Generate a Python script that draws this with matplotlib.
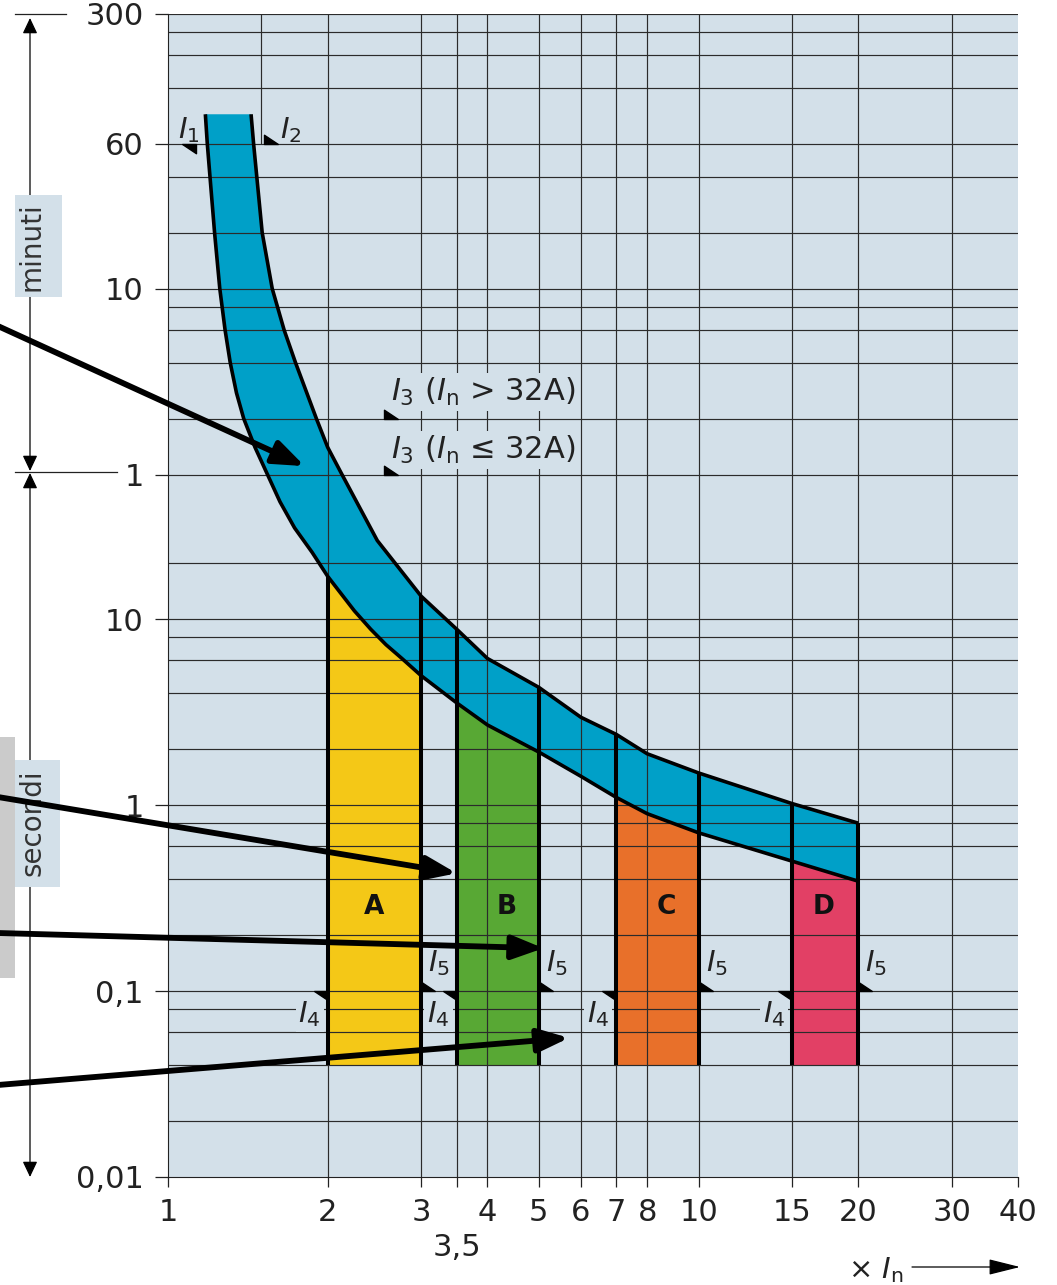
import numpy as np
import matplotlib.pyplot as plt
from matplotlib.path import Path
from matplotlib.patches import Rectangle
from matplotlib.lines import Line2D
from matplotlib.ticker import FixedLocator, FixedFormatter, NullLocator

plt.rcParams['font.family'] = ['DejaVu Sans']
plt.rcParams['mathtext.fontset'] = 'dejavusans'

# tripping band (x = multiple of In, t in seconds)
lower_x = np.array([1.176, 1.186, 1.224, 1.252, 1.281, 1.31, 1.346, 1.389, 1.459, 1.54,
                    1.626, 1.732, 1.869, 2.0, 2.245, 2.41, 2.575, 2.76, 3.0, 3.5, 4.0,
                    5.0, 6.0, 7.0, 8.0, 10.0, 15.0, 20.0])
lower_t = np.array([5200, 3600, 1200, 600, 360, 240, 165, 120, 84, 60,
                    42.8, 31.0, 22.9, 17.0, 11.1, 8.84, 7.3, 6.15, 4.97, 3.55, 2.70,
                    1.93, 1.43, 1.10, 0.90, 0.71, 0.50, 0.39])
upper_x = np.array([1.434, 1.45, 1.505, 1.572, 1.655, 1.739, 1.904, 2.0, 2.128, 2.48,
                    3.0, 3.5, 4.0, 5.0, 6.0, 7.0, 8.0, 10.0, 15.0, 20.0])
upper_t = np.array([5200, 3600, 1200, 600, 360, 240, 120, 84, 60, 26.5,
                    13.3, 8.84, 6.15, 4.3, 2.97, 2.40, 1.89, 1.49, 1.02, 0.80])

# magnetic trip zones
bar_names = ['A', 'B', 'C', 'D']
bar_lo = [2, 3.5, 7, 15]
bar_hi = [3, 5, 10, 20]
bar_colors = ['#f4c817', '#58a834', '#e8702a', '#e24065']
bar_label_x = [2.45, 4.35, 8.7, 17.2]
bar_label_t = 0.285
bar_bottom = 0.04

# characteristic points
i1_x, i2_x, i3_x = 1.13, 1.52, 2.55
t_i12 = 3600
t_i3 = [120, 60]
t_i45 = 0.1

# pointer arrows coming in from the left (targets)
ptr_x = [1.81, 3.5, 5.1, 5.7]
ptr_t = [66.6, 0.43, 0.17, 0.056]
ptr_tail_py = [326, 797, 933, 1085]

# axis ticks and grid
yticks = [0.01, 0.1, 1, 10, 60, 600, 3600, 18000]
ylabels = ['0,01', '0,1', '1', '10', '1', '10', '60', '300']
xticks = [1, 2, 3, 4, 5, 6, 7, 8, 10, 15, 20, 30, 40]
xlabels = ['1', '2', '3', '4', '5', '6', '7', '8', '10', '15', '20', '30', '40']
grid_t = [0.02, 0.04, 0.06, 0.08, 0.1, 0.2, 0.4, 0.6, 0.8, 1, 2, 4, 6, 8, 10, 20,
          60, 120, 240, 360, 480, 600, 1200, 2400, 3600, 7200, 10800, 14400, 18000]
grid_x = [2, 3, 3.5, 4, 5, 6, 7, 8, 10, 15, 20, 30]

BG = '#d3e0e9'
GRID = '#2b2b2b'
BAND = '#00a0c8'
INK = '#222222'
FS = 21

W, H = 1057, 1285
def fx(px):
    return px / W
def fy(py):
    return 1 - py / H

fig = plt.figure(figsize=(W / 100, H / 100), dpi=100)
ax = fig.add_axes([fx(168), fy(1177), fx(1018) - fx(168), fy(14) - fy(1177)])
ax.set_xscale('log')
ax.set_yscale('log')
ax.set_facecolor(BG)

# grid (drawn over the coloured areas like in the original)
ax.hlines(grid_t, 1, 40, colors=GRID, lw=0.85, zorder=2)
ax.vlines(grid_x, 0.01, 18000, colors=GRID, lw=0.85, zorder=2)
ax.vlines(1.5, t_i12, 18000, colors=GRID, lw=0.85, zorder=2)

# band
ax.fill(np.concatenate([lower_x, upper_x[::-1]]),
        np.concatenate([lower_t, upper_t[::-1]]), color=BAND, lw=0, zorder=1)
ax.plot(lower_x, lower_t, color='k', lw=2.6, zorder=4, solid_capstyle='butt',
        solid_joinstyle='round')
ax.plot(upper_x, upper_t, color='k', lw=2.6, zorder=4, solid_capstyle='butt',
        solid_joinstyle='round')

def at(xs, ts, x):
    return ts[np.argmin(np.abs(xs - x))]

for k, (lo, hi, c, name, lx) in enumerate(zip(bar_lo, bar_hi, bar_colors, bar_names, bar_label_x)):
    m = (lower_x >= lo) & (lower_x <= hi)
    ax.fill_between(lower_x[m], bar_bottom, lower_t[m], color=c, lw=0, zorder=1)
    top_lo = at(lower_x, lower_t, lo) if k == 0 else at(upper_x, upper_t, lo)
    ax.vlines([lo, hi], bar_bottom, [top_lo, at(upper_x, upper_t, hi)],
              colors='k', lw=2.9, zorder=4)
    ax.text(lx, bar_label_t, name, ha='center', va='center', fontsize=19,
            fontweight='bold', color='#111', zorder=5)
    # I4 / I5 labels
    ax.annotate(r'$I_4$', xy=(lo, 0.075), xytext=(-5, 0), textcoords='offset points',
                ha='right', va='center', fontsize=FS, color=INK, zorder=2.5,
                bbox=dict(boxstyle='square,pad=0.1', fc=BG, ec='none'))
    ax.annotate(r'$I_5$', xy=(hi, 0.141), xytext=(5, 0), textcoords='offset points',
                ha='left', va='center', fontsize=FS, color=INK, zorder=2.5)

tri_a = Path([(0, 0), (-1.5, 0), (0, -1), (0, 0)],
             [Path.MOVETO, Path.LINETO, Path.LINETO, Path.CLOSEPOLY])
tri_b = Path([(0, 0), (1.5, 0), (0, 1), (0, 0)],
             [Path.MOVETO, Path.LINETO, Path.LINETO, Path.CLOSEPOLY])
ax.plot([i1_x] + bar_lo, [t_i12] + [t_i45] * 4, ls='none', marker=tri_a, ms=20,
        color='k', zorder=5)
ax.plot([i2_x, i3_x, i3_x] + bar_hi, [t_i12] + t_i3 + [t_i45] * 4, ls='none',
        marker=tri_b, ms=20, color='k', zorder=5)

ax.text(1.094, 4300, r'$I_1$', ha='center', va='center', fontsize=FS, color=INK)
ax.text(1.70, 4300, r'$I_2$', ha='center', va='center', fontsize=FS, color=INK)
ax.text(2.63, 166, r'$I_3$ ($I_\mathrm{n}$ > 32A)', ha='left', va='center', fontsize=22,
        color=INK, zorder=2.5, bbox=dict(boxstyle='square,pad=0.1', fc=BG, ec='none'))
ax.text(2.63, 81, r'$I_3$ ($I_\mathrm{n}$ ≤ 32A)', ha='left', va='center', fontsize=22,
        color=INK, zorder=2.5, bbox=dict(boxstyle='square,pad=0.1', fc=BG, ec='none'))

ax.set_xlim(1, 40)
ax.set_ylim(0.01, 18000)

ax.set_yticks(yticks)
ax.set_yticklabels(ylabels)
ax.yaxis.set_minor_locator(NullLocator())
ax.set_xticks(xticks)
ax.set_xticklabels(xlabels)
ax.xaxis.set_minor_locator(FixedLocator([3.5]))
ax.xaxis.set_minor_formatter(FixedFormatter(['3,5']))
ax.tick_params(axis='y', which='major', length=9.5, width=0.9, pad=8, labelsize=22,
               color=INK, labelcolor=INK)
ax.tick_params(axis='x', which='major', length=7, width=0.9, pad=8, labelsize=22,
               color=INK, labelcolor=INK)
ax.tick_params(axis='x', which='minor', length=7, width=0.9, pad=33, labelsize=22,
               color=INK, labelcolor=INK)
for s in ['top', 'right']:
    ax.spines[s].set_visible(False)
ax.spines['left'].set_color(INK)
ax.spines['bottom'].set_color(INK)

# left side decorations: time ranges (minutes / seconds)
tf = fig.transFigure
for y0, y1 in [(18, 471), (473, 1177)]:
    ax.annotate('', xy=(fx(30), fy(y0)), xytext=(fx(30), fy(y1)), xycoords='figure fraction',
                arrowprops=dict(arrowstyle='<|-|>,head_length=0.95,head_width=0.45',
                                mutation_scale=10, lw=0.9, color='k', shrinkA=0, shrinkB=0),
                annotation_clip=False, zorder=6)
for py, x1 in [(472, 117), (14, 66)]:
    ax.add_line(Line2D([fx(15), fx(x1)], [fy(py), fy(py)], transform=tf, color=INK,
                       lw=0.9, clip_on=False, zorder=6))
ax.add_patch(Rectangle((0, fy(978)), fx(15), fy(737) - fy(978), transform=tf,
                       color='#cbcbcb', lw=0, clip_on=False, zorder=7))
for (x0, x1, y0, y1, word, cy) in [(15, 62, 195, 297, 'minuti', 247),
                                   (15, 60, 760, 887, 'secondi', 823)]:
    ax.add_patch(Rectangle((fx(x0), fy(y1)), fx(x1) - fx(x0), fy(y0) - fy(y1),
                           transform=tf, color=BG, lw=0, clip_on=False, zorder=7))
    ax.text(fx(32), fy(cy), word, transform=tf, rotation=90, ha='center', va='center',
            fontsize=20, color='#333', zorder=8, clip_on=False)

# pointer arrows from the left edge
for x, t, py in zip(ptr_x, ptr_t, ptr_tail_py):
    ax.annotate('', xy=(x, t), xytext=(-0.002, fy(py)), textcoords='figure fraction',
                arrowprops=dict(arrowstyle='-|>,head_length=1.1,head_width=0.42',
                                mutation_scale=17, lw=4.2, color='k', shrinkA=0, shrinkB=0),
                annotation_clip=False, zorder=9)

# x axis label
fig.text(fx(848), fy(1270), r'× $I_\mathrm{n}$', ha='left', va='center', fontsize=FS,
         color=INK)
ax.annotate('', xy=(fx(1020), fy(1267)), xytext=(fx(912), fy(1267)),
            xycoords='figure fraction',
            arrowprops=dict(arrowstyle='-|>,head_length=1.4,head_width=0.35',
                            mutation_scale=14, lw=0.9, color='k', shrinkA=0, shrinkB=0),
            annotation_clip=False, zorder=6)

fig.savefig('out.png', dpi=100)
